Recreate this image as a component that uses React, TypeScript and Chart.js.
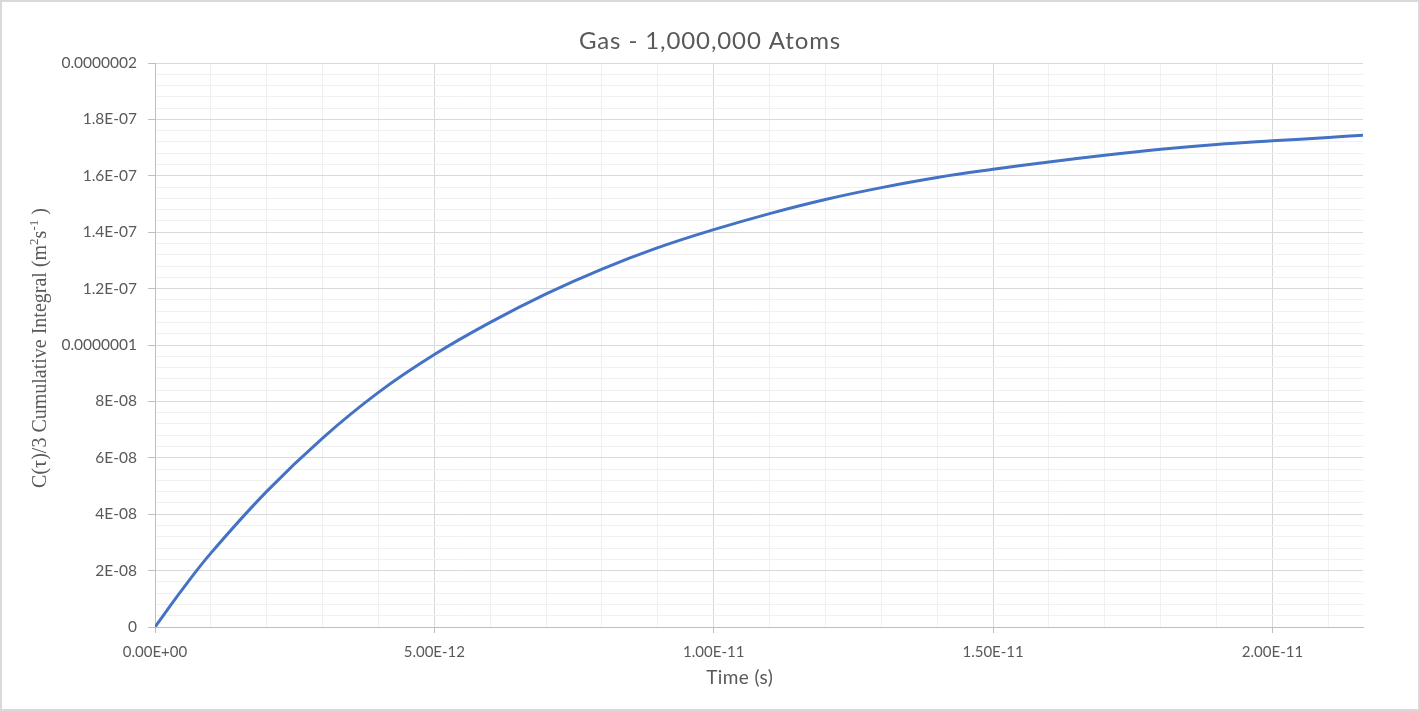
import React, { useEffect, useRef } from 'react';
import { Chart, registerables } from 'chart.js';

Chart.register(...registerables);

const chartTitle = 'Gas - 1,000,000 Atoms';
const xAxisTitle = 'Time (s)';

// Time in seconds
const timeSeconds = [
  0, 0.5e-12, 1e-12, 2e-12, 3e-12, 4e-12, 5e-12, 6e-12, 7e-12, 8e-12, 9e-12, 10e-12,
  11e-12, 12e-12, 13e-12, 14e-12, 15e-12, 16e-12, 17e-12, 18e-12, 19e-12, 20e-12, 21e-12, 21.62e-12,
];

// C(tau)/3 cumulative integral (m^2 s^-1)
const integralValues = [
  0, 1.36e-8, 2.62e-8, 4.81e-8, 6.7e-8, 8.32e-8, 9.66e-8, 1.08e-7, 1.181e-7, 1.269e-7, 1.345e-7, 1.409e-7,
  1.466e-7, 1.516e-7, 1.558e-7, 1.594e-7, 1.623e-7, 1.649e-7, 1.673e-7, 1.694e-7, 1.711e-7, 1.724e-7, 1.736e-7, 1.744e-7,
];

const xMajorLabels = ['0.00E+00', '5.00E-12', '1.00E-11', '1.50E-11', '2.00E-11'];
const yMajorLabels = ['0', '2E-08', '4E-08', '6E-08', '8E-08', '0.0000001', '1.2E-07', '1.4E-07', '1.6E-07', '1.8E-07', '0.0000002'];

const X_MIN = 0;
const X_MAX = 2.162e-11;
const X_STEP = 1e-12;
const Y_MIN = 0;
const Y_MAX = 2e-7;
const Y_STEP = 4e-9;

const TEXT = '#595959';
const MAJOR = '#d9d9d9';
const MINOR = '#f0f0f0';
const AXIS = '#bfbfbf';

const isMajor = (v: number, step: number) => Math.round(v / step) % 5 === 0;

const decorPlugin = {
  id: 'decor',
  afterDraw(chart: any) {
    const ctx = chart.ctx as CanvasRenderingContext2D;
    const area = chart.chartArea;
    ctx.save();
    // outer border
    ctx.strokeStyle = '#d9d9d9';
    ctx.lineWidth = 2;
    ctx.strokeRect(1, 1, chart.width - 2, chart.height - 2);

    // chart title
    ctx.fillStyle = TEXT;
    ctx.font = '24px Lato';
    (ctx as any).letterSpacing = '0.9px';
    ctx.textAlign = 'center';
    ctx.textBaseline = 'alphabetic';
    ctx.fillText(chartTitle, chart.width / 2, 49);

    // x axis title
    (ctx as any).letterSpacing = '0.4px';
    ctx.font = '19px Lato';
    ctx.fillText(xAxisTitle, area.left + area.width * 0.484, 684);
    (ctx as any).letterSpacing = '0px';

    // y axis title (rotated, serif, with superscripts)
    const pieces: [string, boolean][] = [
      ['C(\u03C4)/3 Cumulative Integral (m', false],
      ['2', true],
      ['s', false],
      ['-1', true],
      [' )', false],
    ];
    const mainFont = '20px "Liberation Serif"';
    const supFont = '13px "Liberation Serif"';
    let total = 0;
    const widths = pieces.map(([t, sup]) => {
      ctx.font = sup ? supFont : mainFont;
      const w = ctx.measureText(t).width;
      total += w;
      return w;
    });
    ctx.translate(40, (area.top + area.bottom) / 2 + 3);
    ctx.rotate(-Math.PI / 2);
    ctx.textAlign = 'left';
    ctx.textBaseline = 'alphabetic';
    let x = -total / 2;
    pieces.forEach(([t, sup], i) => {
      ctx.font = sup ? supFont : mainFont;
      ctx.fillText(t, x, sup ? -2 : 6);
      x += widths[i];
    });
    ctx.restore();
  },
};

export default function App() {
  const canvasRef = useRef<HTMLCanvasElement | null>(null);

  useEffect(() => {
    document.body.style.margin = '0';
    const canvas = canvasRef.current;
    if (!canvas) return;
    const chart = new Chart(canvas, {
      type: 'line',
      data: {
        datasets: [
          {
            data: timeSeconds.map((t, i) => ({ x: t, y: integralValues[i] })),
            borderColor: '#4472C4',
            borderWidth: 3,
            pointRadius: 0,
            fill: false,
            tension: 0.4,
          },
        ],
      },
      options: {
        responsive: false,
        animation: false,
        devicePixelRatio: 1,
        layout: { padding: { left: 0, right: 57, top: 63, bottom: 0 } },
        plugins: {
          legend: { display: false },
          title: { display: false },
          tooltip: { enabled: false },
        },
        scales: {
          x: {
            type: 'linear',
            min: X_MIN,
            max: X_MAX,
            afterFit: (s: any) => {
              s.height = 84;
            },
            border: { color: AXIS, width: 1 },
            grid: {
              color: (c: any) => (isMajor(c.tick.value, X_STEP) ? MAJOR : MINOR),
              tickColor: (c: any) => (isMajor(c.tick.value, X_STEP) ? AXIS : 'rgba(0,0,0,0)'),
              tickLength: 6,
              lineWidth: 1,
            },
            ticks: {
              stepSize: X_STEP,
              autoSkip: false,
              maxRotation: 0,
              minRotation: 0,
              includeBounds: false,
              padding: 10,
              color: TEXT,
              font: { family: 'Lato', size: 15 },
              callback: (v: any) => {
                const n = Math.round(Number(v) / X_STEP);
                return n % 5 === 0 ? xMajorLabels[n / 5] ?? '' : '';
              },
            },
          },
          y: {
            type: 'linear',
            min: Y_MIN,
            max: Y_MAX,
            afterFit: (s: any) => {
              s.width = 155;
            },
            border: { color: AXIS, width: 1 },
            grid: {
              color: (c: any) => (isMajor(c.tick.value, Y_STEP) ? MAJOR : MINOR),
              tickColor: (c: any) => (isMajor(c.tick.value, Y_STEP) ? AXIS : 'rgba(0,0,0,0)'),
              tickLength: 7,
              lineWidth: 1,
            },
            ticks: {
              stepSize: Y_STEP,
              autoSkip: false,
              padding: 11,
              color: TEXT,
              font: { family: 'Lato', size: 15.5 },
              callback: (v: any) => {
                const n = Math.round(Number(v) / Y_STEP);
                return n % 5 === 0 ? yMajorLabels[n / 5] ?? '' : '';
              },
            },
          },
        },
      },
      plugins: [decorPlugin],
    });
    return () => chart.destroy();
  }, []);

  return (
    <div style={{ position: 'absolute', left: 0, top: 0, width: 1420, height: 711, background: '#fff' }}>
      <canvas ref={canvasRef} width={1420} height={711} style={{ display: 'block', width: 1420, height: 711 }} />
    </div>
  );
}
